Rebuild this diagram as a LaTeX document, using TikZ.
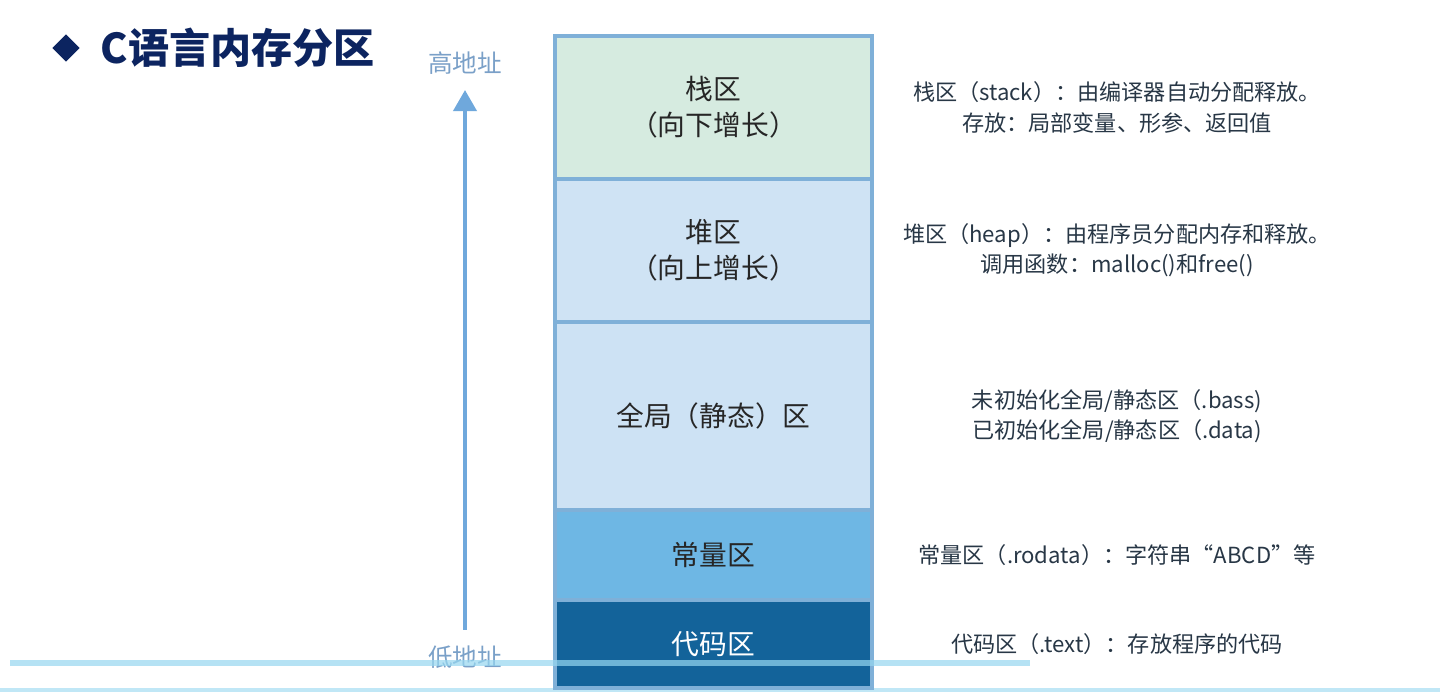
\documentclass[tikz,border=0pt]{standalone}
\usepackage{fontspec}
\setmainfont{Noto Sans CJK SC}
\usetikzlibrary{arrows.meta,positioning,shapes.geometric}
\definecolor{TitleNavy}{RGB}{12,36,96}
\definecolor{ArrowBlue}{RGB}{111,168,220}
\definecolor{AddrGray}{RGB}{122,160,200}
\definecolor{BoxEdge}{RGB}{127,176,216}
\definecolor{StackFill}{RGB}{214,235,224}
\definecolor{HeapFill}{RGB}{207,227,244}
\definecolor{GlobalFill}{RGB}{205,226,244}
\definecolor{ConstFill}{RGB}{110,183,228}
\definecolor{CodeFill}{RGB}{19,99,154}
\definecolor{NoteText}{RGB}{40,55,70}
\definecolor{BarCyan}{RGB}{150,215,240}
\tikzset{
  zone/.style={draw=BoxEdge,line width=1.1pt,outer sep=0pt,minimum width=3.17cm,align=center,
    text=black!85,font=\fontsize{7.9}{10.2}\selectfont},
  note/.style={align=center,text=NoteText,font=\fontsize{6.3}{8.6}\selectfont},
  addr/.style={inner sep=0pt,text=AddrGray,font=\fontsize{7}{8}\selectfont}
}
\begin{document}
\begin{tikzpicture}
\useasboundingbox[fill=white] (0,0) rectangle (14.40,6.92);
\fill[BarCyan!60] (0,0) rectangle (14.40,.04);
% title
\node[diamond,fill=TitleNavy,minimum width=.28cm,minimum height=.28cm,inner sep=0pt] (bullet) at (.66,6.44){};
\node[anchor=west,inner sep=0pt,text=TitleNavy,font=\fontsize{11.7}{13}\selectfont\bfseries] (title) at (1.0,6.44){C语言内存分区};
% memory layout
\node[zone,fill=StackFill,minimum height=1.43cm] (stack) at (7.135,5.845){栈区\\（向下增长）};
\node[zone,fill=HeapFill,minimum height=1.43cm,below=0pt of stack] (heap){堆区\\（向上增长）};
\node[zone,fill=GlobalFill,minimum height=1.88cm,below=0pt of heap] (global){全局（静态）区};
\node[zone,fill=ConstFill,minimum height=.90cm,below=0pt of global] (const){常量区};
\node[zone,fill=CodeFill,minimum height=.88cm,below=0pt of const,text=white] (code){代码区};
% address arrow
\node[addr] (high) at (4.65,6.29){高地址};
\node[addr] (low) at (4.65,.35){低地址};
\draw[ArrowBlue,line width=1.1pt,-{Triangle[length=.21cm,width=.23cm]},shorten <=.15cm,shorten >=.15cm] (low)--(high);
% notes
\coordinate (notex) at (11.17,0);
\node[note] (stacknote) at (stack -| notex){栈区（stack）：由编译器自动分配释放。\\存放：局部变量、形参、返回值};
\node[note] (heapnote) at (heap -| notex){堆区（heap）：由程序员分配内存和释放。\\调用函数：malloc()和free()};
\node[note] (globalnote) at (global -| notex){未初始化全局/静态区（.bass)\\已初始化全局/静态区（.data)};
\node[note] (constnote) at (const -| notex){常量区（.rodata）：字符串“ABCD”等};
\node[note] (codenote) at (code -| notex){代码区（.text）：存放程序的代码};
\draw[BarCyan,opacity=.7,line width=1.8pt] (.10,.29)--(10.30,.29);
\end{tikzpicture}
\end{document}
